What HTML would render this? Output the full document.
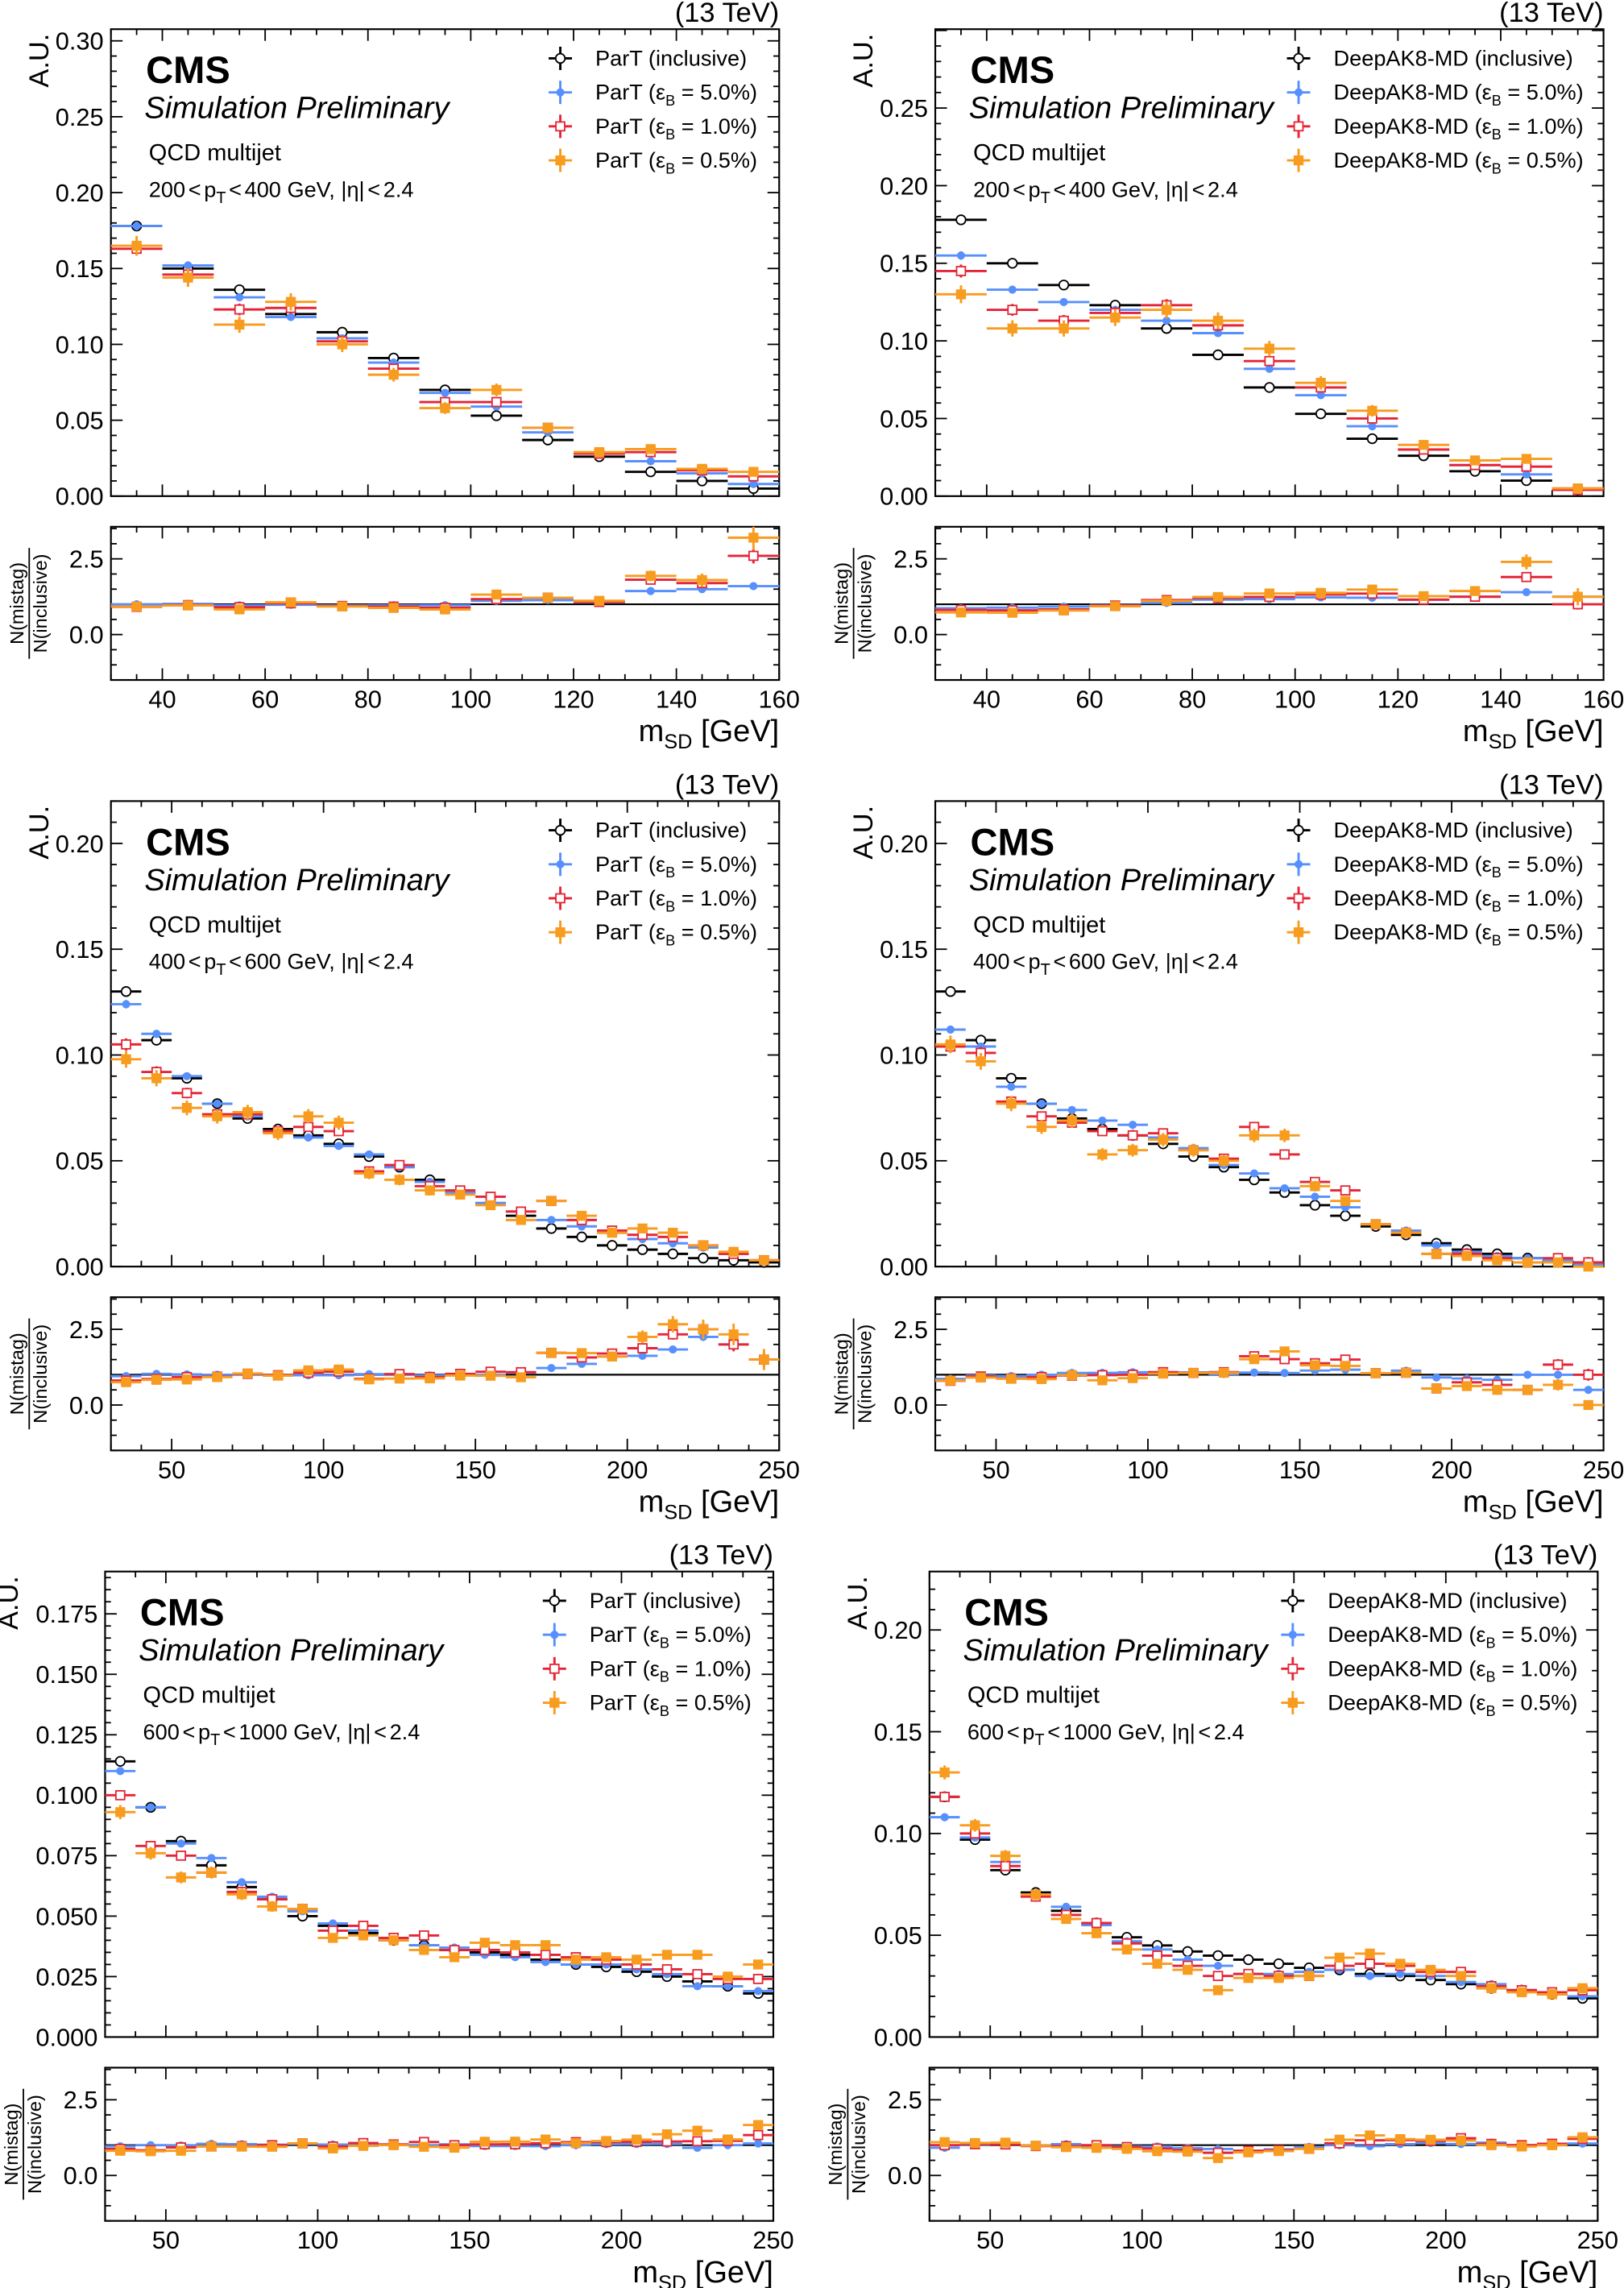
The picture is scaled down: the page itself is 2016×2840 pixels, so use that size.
<!DOCTYPE html>
<html><head><meta charset="utf-8">
<style>
html,body{margin:0;padding:0;background:#fff;}
svg{display:block;font-family:"Liberation Sans",sans-serif;}
</style></head>
<body>
<svg id="fig" xmlns="http://www.w3.org/2000/svg" width="2016" height="2840" viewBox="0 0 1113 1568"></svg>
<script>
// ---- data (A.U.) per panel: inclusive, eps5, eps1, eps05 ----
const xcenters1 = [35,45,55,65,75,85,95,105,115,125,135,145,155];
const xcenters2 = [35,45,55,65,75,85,95,105,115,125,135,145,155,165,175,185,195,205,215,225,235,245];

const p1_inc = [0.178,0.150,0.136,0.120,0.108,0.091,0.070,0.053,0.037,0.026,0.016,0.010,0.005];
const p1_e5  = [0.178,0.152,0.131,0.118,0.104,0.088,0.068,0.059,0.042,0.028,0.023,0.015,0.008];
const p1_e1  = [0.163,0.146,0.123,0.124,0.102,0.084,0.062,0.062,0.045,0.028,0.029,0.017,0.013];
const p1_e05 = [0.165,0.144,0.113,0.128,0.100,0.080,0.058,0.070,0.045,0.029,0.031,0.018,0.016];

const p2_inc = [0.178,0.150,0.136,0.123,0.108,0.091,0.070,0.053,0.037,0.026,0.016,0.010,0.004];
const p2_e5  = [0.155,0.133,0.125,0.120,0.113,0.105,0.082,0.065,0.045,0.030,0.020,0.014,0.005];
const p2_e1  = [0.145,0.120,0.113,0.118,0.123,0.110,0.087,0.070,0.050,0.030,0.020,0.019,0.004];
const p2_e05 = [0.130,0.108,0.108,0.115,0.120,0.113,0.095,0.073,0.055,0.033,0.023,0.024,0.005];

const p3_inc = [0.130,0.107,0.089,0.077,0.070,0.065,0.062,0.058,0.052,0.047,0.041,0.035,0.030,0.024,0.018,0.014,0.010,0.008,0.006,0.004,0.003,0.002];
const p3_e5  = [0.124,0.110,0.090,0.077,0.071,0.064,0.061,0.057,0.053,0.047,0.040,0.035,0.030,0.026,0.022,0.019,0.016,0.013,0.011,0.009,0.006,0.003];
const p3_e1  = [0.105,0.092,0.082,0.072,0.072,0.064,0.066,0.064,0.045,0.048,0.038,0.036,0.033,0.026,0.031,0.022,0.017,0.015,0.014,0.010,0.006,0.003];
const p3_e05 = [0.098,0.089,0.075,0.071,0.073,0.063,0.071,0.068,0.044,0.041,0.036,0.034,0.029,0.022,0.031,0.024,0.016,0.018,0.016,0.010,0.007,0.003];

const p4_inc = [0.130,0.107,0.089,0.077,0.070,0.065,0.062,0.058,0.052,0.047,0.041,0.035,0.029,0.024,0.019,0.015,0.011,0.008,0.006,0.004,0.003,0.002];
const p4_e5  = [0.112,0.104,0.085,0.077,0.074,0.069,0.067,0.061,0.056,0.048,0.044,0.037,0.033,0.028,0.020,0.017,0.010,0.007,0.005,0.004,0.003,0.001];
const p4_e1  = [0.104,0.101,0.078,0.071,0.068,0.064,0.062,0.063,0.055,0.051,0.066,0.053,0.040,0.036,0.020,0.016,0.006,0.006,0.004,0.002,0.004,0.002];
const p4_e05 = [0.105,0.097,0.077,0.066,0.069,0.053,0.055,0.060,0.055,0.050,0.062,0.062,0.038,0.031,0.020,0.016,0.006,0.005,0.003,0.002,0.002,0.000];

const p5_inc = [0.114,0.095,0.081,0.071,0.062,0.057,0.050,0.046,0.043,0.040,0.038,0.036,0.035,0.034,0.032,0.030,0.029,0.027,0.025,0.023,0.021,0.018];
const p5_e5  = [0.110,0.095,0.080,0.074,0.064,0.058,0.052,0.047,0.044,0.041,0.038,0.037,0.034,0.033,0.031,0.030,0.030,0.028,0.026,0.021,0.021,0.019];
const p5_e1  = [0.100,0.079,0.075,0.068,0.060,0.057,0.053,0.044,0.046,0.041,0.042,0.036,0.036,0.035,0.034,0.033,0.032,0.030,0.028,0.026,0.024,0.024];
const p5_e05 = [0.093,0.076,0.066,0.068,0.059,0.054,0.053,0.041,0.042,0.040,0.036,0.033,0.039,0.038,0.038,0.032,0.033,0.032,0.034,0.034,0.025,0.030];

const p6_inc = [0.118,0.097,0.082,0.071,0.062,0.056,0.049,0.045,0.042,0.040,0.038,0.036,0.034,0.033,0.031,0.030,0.028,0.026,0.024,0.023,0.021,0.019];
const p6_e5  = [0.108,0.098,0.086,0.070,0.064,0.055,0.047,0.043,0.038,0.035,0.031,0.031,0.032,0.033,0.030,0.031,0.030,0.027,0.026,0.023,0.021,0.020];
const p6_e1  = [0.118,0.100,0.084,0.069,0.060,0.056,0.046,0.040,0.035,0.030,0.031,0.030,0.030,0.035,0.036,0.035,0.032,0.032,0.025,0.023,0.022,0.023];
const p6_e05 = [0.130,0.104,0.089,0.070,0.058,0.051,0.043,0.036,0.033,0.023,0.029,0.029,0.030,0.039,0.041,0.036,0.033,0.030,0.024,0.022,0.021,0.024];

const mainTicks1 = ["0.00","0.05","0.10","0.15","0.20","0.25","0.30"];
const mainTicks2 = ["0.00","0.05","0.10","0.15","0.20","0.25"];
const mainTicks3 = ["0.00","0.05","0.10","0.15","0.20"];
const mainTicks5 = ["0.000","0.025","0.050","0.075","0.100","0.125","0.150","0.175"];
const ratioTicks = ["0.0","2.5"];
const xTicks1 = ["40","60","80","100","120","140","160"];
const xTicks2 = ["50","100","150","200","250"];

const NS="http://www.w3.org/2000/svg";
const fig=document.getElementById('fig');
function mk(tag,attrs,parent){const e=document.createElementNS(NS,tag);for(const k in attrs)e.setAttribute(k,attrs[k]);(parent||fig).appendChild(e);return e;}
const COLORS=['#000000','#5790fc','#e42536','#f89c20'];
const ERRC=[0.002,0.007,0.011,0.016];

function drawMarker(g,k,x,y,s){
  let m;
  if(k===0){m=mk('circle',{cx:x,cy:y,r:s*0.8,fill:'#fff',stroke:'#000','stroke-width':1},g);}
  else if(k===1){m=mk('circle',{cx:x,cy:y,r:s*0.7,fill:COLORS[1]},g);}
  else if(k===2){m=mk('rect',{x:x-s*0.75,y:y-s*0.75,width:s*1.5,height:s*1.5,fill:'#fff',stroke:COLORS[2],'stroke-width':1},g);}
  else {m=mk('rect',{x:x-s*0.85,y:y-s*0.85,width:s*1.7,height:s*1.7,fill:COLORS[3]},g);}
  return m;
}

function panel(cfg){
  const g=mk('g',{});
  
  
  const X0=cfg.x0,X1=cfg.x1,M0=cfg.my0,M1=cfg.my1,R0=cfg.ry0,R1=cfg.ry1;
  const xs=v=>X0+(v-cfg.xmin)/(cfg.xmax-cfg.xmin)*(X1-X0);
  const ys=v=>M1-v/cfg.ymax*(M1-M0);
  const RMIN=-1.5,RMAX=3.56;
  const rs=v=>R1-(v-RMIN)/(RMAX-RMIN)*(R1-R0);
  [[M0,M1],[R0,R1]].forEach(([a,b],i)=>{
    const r=mk('rect',{x:X0,y:a,width:X1-X0,height:b-a,fill:'none',stroke:'#000','stroke-width':1.2},g);
    
    
  });
  const xt=cfg.xticks;
  for(let v=cfg.xmin;v<=cfg.xmax+0.01;v+=cfg.xminor){
    const major=Math.abs((v/cfg.xmajor)-Math.round(v/cfg.xmajor))<1e-6;
    const L=major?8:4;
    [[M0,1],[M1,-1],[R0,1],[R1,-1]].forEach(([yy,d])=>mk('line',{x1:xs(v),x2:xs(v),y1:yy,y2:yy+d*L,stroke:'#000','stroke-width':1},g));
  }
  xt.forEach(t=>{
    const e=mk('text',{x:xs(+t),y:R1+19,'font-size':17,'text-anchor':'middle'},g);e.textContent=t;
    
    
  });
  const ymaj=+cfg.yticks[1];
  for(let v=0;v<=cfg.ymax+1e-9;v+=cfg.yminor){
    const major=Math.abs(v/ymaj-Math.round(v/ymaj))<1e-6;
    const L=major?8:4;
    mk('line',{x1:X0,x2:X0+L,y1:ys(v),y2:ys(v),stroke:'#000','stroke-width':1},g);
    mk('line',{x1:X1,x2:X1-L,y1:ys(v),y2:ys(v),stroke:'#000','stroke-width':1},g);
  }
  cfg.yticks.forEach(t=>{
    if(+t>cfg.ymax)return;
    const e=mk('text',{x:X0-5,y:ys(+t)+6,'font-size':17,'text-anchor':'end'},g);e.textContent=t;
    
    
  });
  for(let v=-1.5;v<=3.5+1e-9;v+=0.5){
    const major=Math.abs(v/2.5-Math.round(v/2.5))<1e-6;
    const L=major?8:4;
    mk('line',{x1:X0,x2:X0+L,y1:rs(v),y2:rs(v),stroke:'#000','stroke-width':1},g);
    mk('line',{x1:X1,x2:X1-L,y1:rs(v),y2:rs(v),stroke:'#000','stroke-width':1},g);
  }
  ratioTicks.forEach(t=>{
    const e=mk('text',{x:X0-5,y:rs(+t)+6,'font-size':17,'text-anchor':'end'},g);e.textContent=t;
    
    
  });
  const ul=mk('line',{x1:X0,x2:X1,y1:rs(1),y2:rs(1),stroke:'#000','stroke-width':1.2},g);
  
  
  const series=cfg.series;
  const hw=(xs(cfg.xc[1])-xs(cfg.xc[0]))/2;
  series.forEach((arr,k)=>{
    const sg=mk('g',{},g);
    
    
    arr.forEach((v,i)=>{
      const cx=xs(cfg.xc[i]);
      const err=ERRC[k]*Math.sqrt(v)*cfg.errScale;
      const cy=ys(v);
      mk('line',{x1:cx-hw,x2:cx+hw,y1:cy,y2:cy,stroke:COLORS[k],'stroke-width':1.6},sg);
      mk('line',{x1:cx,x2:cx,y1:ys(v+err),y2:ys(Math.max(0,v-err)),stroke:COLORS[k],'stroke-width':1.6},sg);
      const m=drawMarker(sg,k,cx,cy,4);
      
      
      if(k>0){
        const inc=series[0][i];
        const r=inc>0?v/inc:0;
        const re=inc>0?err/inc:0;
        const ry=rs(Math.min(r,3.5));
        mk('line',{x1:cx-hw,x2:cx+hw,y1:ry,y2:ry,stroke:COLORS[k],'stroke-width':1.6},sg);
        mk('line',{x1:cx,x2:cx,y1:rs(Math.min(r+re,3.56)),y2:rs(Math.max(r-re,-1.5)),stroke:COLORS[k],'stroke-width':1.6},sg);
        const rm=drawMarker(sg,k,cx,ry,4);
        
        
      }
    });
  });
  const T=(txt,attrs,name)=>{const e=mk('text',attrs,g);e.innerHTML=txt;return e;};
  T('(13 TeV)',{x:X1,y:M0-5,'font-size':19,'text-anchor':'end'},'energy-label');
  T('A.U.',{x:0,y:0,'font-size':19,'text-anchor':'end',transform:`translate(${X0-cfg.auOffset},${M0+3}) rotate(-90)`},'y-axis-title');
  T('CMS',{x:X0+24,y:M0+37,'font-size':26,'font-weight':'bold'},'cms-label');
  T('Simulation Preliminary',{x:X0+23,y:M0+61,'font-size':21,'font-style':'italic'},'simulation-label');
  T('QCD multijet',{x:X0+26,y:M0+90,'font-size':16},'process-label');
  T(`${cfg.pt[0]}<tspan dx="2">&lt;</tspan><tspan dx="2">p</tspan><tspan font-size="11" dy="4">T</tspan><tspan dy="-4" dx="2">&lt;</tspan><tspan dx="2">${cfg.pt[1]} GeV, |η|</tspan><tspan dx="2">&lt;</tspan><tspan dx="2">2.4</tspan>`,{x:X0+26,y:M0+115,'font-size':15},'selection-label');
  const lx=X0+cfg.legx;
  const names=[`${cfg.algo} (inclusive)`,`${cfg.algo} (ε<tspan font-size="10" dy="4">B</tspan><tspan dy="-4"> = 5.0%)</tspan>`,`${cfg.algo} (ε<tspan font-size="10" dy="4">B</tspan><tspan dy="-4"> = 1.0%)</tspan>`,`${cfg.algo} (ε<tspan font-size="10" dy="4">B</tspan><tspan dy="-4"> = 0.5%)</tspan>`];
  names.forEach((n,k)=>{
    const ly=M0+20+k*23.3;
    const lg=mk('g',{},g);
    
    
    mk('line',{x1:lx-8,x2:lx+8,y1:ly,y2:ly,stroke:COLORS[k],'stroke-width':1.6},lg);
    mk('line',{x1:lx,x2:lx,y1:ly-8,y2:ly+8,stroke:COLORS[k],'stroke-width':1.6},lg);
    drawMarker(lg,k,lx,ly,4);
    const e=mk('text',{x:lx+24,y:ly+5,'font-size':15},lg);e.innerHTML=n;
  });
  const rt=mk('g',{transform:`translate(${X0-56},${(R0+R1)/2}) rotate(-90)`},g);
  
  
  const a=mk('text',{x:0,y:-4,'font-size':13,'text-anchor':'middle'},rt);a.textContent='N(mistag)';
  mk('line',{x1:-38,x2:38,y1:0,y2:0,stroke:'#000','stroke-width':1},rt);
  const b=mk('text',{x:0,y:12,'font-size':13,'text-anchor':'middle'},rt);b.textContent='N(inclusive)';
  T('m<tspan font-size="14" dy="5">SD</tspan><tspan dy="-5"> [GeV]</tspan>',{x:X1,y:R1+42,'font-size':21,'text-anchor':'end'},'x-axis-title');
}

const L=['inclusive','eff5','eff1','eff05'];
panel({name:'panel-part-200-400',x0:76,x1:534,my0:20,my1:340,ry0:361,ry1:466,xmin:30,xmax:160,xmajor:20,xminor:5,xticks:xTicks1,xc:xcenters1,ymax:0.3077,yticks:mainTicks1,yminor:0.01,series:[p1_inc,p1_e5,p1_e1,p1_e05],labels:L,algo:'ParT',pt:[200,400],legx:308,errScale:1,auOffset:43});
panel({name:'panel-deepak8-200-400',x0:641,x1:1099,my0:20,my1:340,ry0:361,ry1:466,xmin:30,xmax:160,xmajor:20,xminor:5,xticks:xTicks1,xc:xcenters1,ymax:0.3008,yticks:mainTicks2,yminor:0.01,series:[p2_inc,p2_e5,p2_e1,p2_e05],labels:L,algo:'DeepAK8-MD',pt:[200,400],legx:249,errScale:1,auOffset:43});
panel({name:'panel-part-400-600',x0:76,x1:534,my0:549,my1:868,ry0:889,ry1:994,xmin:30,xmax:250,xmajor:50,xminor:10,xticks:xTicks2,xc:xcenters2,ymax:0.22,yticks:mainTicks3,yminor:0.01,series:[p3_inc,p3_e5,p3_e1,p3_e05],labels:L,algo:'ParT',pt:[400,600],legx:308,errScale:0.8,auOffset:43});
panel({name:'panel-deepak8-400-600',x0:641,x1:1099,my0:549,my1:868,ry0:889,ry1:994,xmin:30,xmax:250,xmajor:50,xminor:10,xticks:xTicks2,xc:xcenters2,ymax:0.22,yticks:mainTicks3,yminor:0.01,series:[p4_inc,p4_e5,p4_e1,p4_e05],labels:L,algo:'DeepAK8-MD',pt:[400,600],legx:249,errScale:0.8,auOffset:43});
panel({name:'panel-part-600-1000',x0:72,x1:530,my0:1077,my1:1396,ry0:1417,ry1:1522,xmin:30,xmax:250,xmajor:50,xminor:10,xticks:xTicks2,xc:xcenters2,ymax:0.1925,yticks:mainTicks5,yminor:0.005,series:[p5_inc,p5_e5,p5_e1,p5_e05],labels:L,algo:'ParT',pt:[600,1000],legx:308,errScale:0.6,auOffset:60});
panel({name:'panel-deepak8-600-1000',x0:637,x1:1095,my0:1077,my1:1396,ry0:1417,ry1:1522,xmin:30,xmax:250,xmajor:50,xminor:10,xticks:xTicks2,xc:xcenters2,ymax:0.2287,yticks:mainTicks3,yminor:0.01,series:[p6_inc,p6_e5,p6_e1,p6_e05],labels:L,algo:'DeepAK8-MD',pt:[600,1000],legx:249,errScale:0.6,auOffset:43});
</script>
</body></html>
